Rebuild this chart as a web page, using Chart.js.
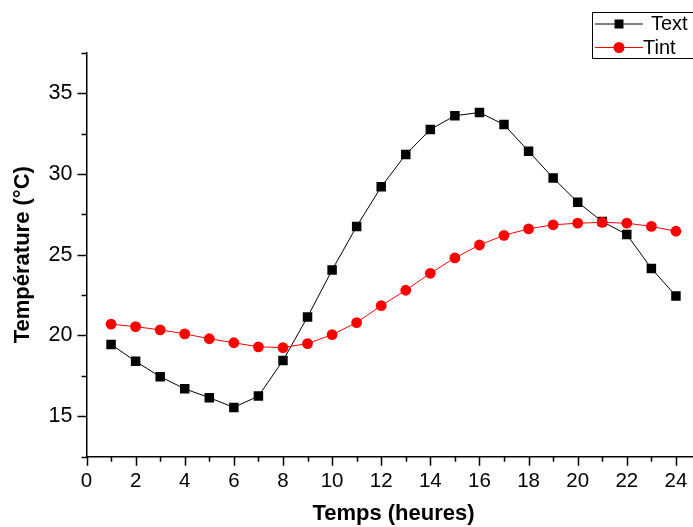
<!DOCTYPE html>
<html>
<head>
<meta charset="utf-8">
<script src="https://cdn.jsdelivr.net/npm/chart.js"></script>
<style>
    html, body { margin: 0; padding: 0; background: #fff; overflow: hidden; }
    #wrap { width: 693px; height: 527px; overflow: hidden; }
</style>
</head>
<body>
<div id="wrap"><canvas id="chart" width="710" height="527"></canvas></div>
<script>
// Data
const hours = [1, 2, 3, 4, 5, 6, 7, 8, 9, 10, 11, 12, 13, 14, 15, 16, 17, 18, 19, 20, 21, 22, 23, 24];
const textValues = [19.45, 18.4, 17.45, 16.7, 16.15, 15.55, 16.25, 18.45, 21.15, 24.05, 26.75, 29.2,
    31.2, 32.75, 33.6, 33.8, 33.05, 31.4, 29.75, 28.25, 27.05, 26.25, 24.15, 22.45];
const tintValues = [20.7, 20.55, 20.35, 20.1, 19.8, 19.55, 19.3, 19.25, 19.5, 20.05, 20.8, 21.85,
    22.8, 23.85, 24.8, 25.6, 26.2, 26.6, 26.85, 26.95, 27.0, 26.95, 26.75, 26.45];
const xTickLabels = [0, 2, 4, 6, 8, 10, 12, 14, 16, 18, 20, 22, 24];
const yTickLabels = [15, 20, 25, 30, 35];

const FONT = "'Liberation Sans', Arial, sans-serif";

function toPoints(values) {
    return hours.map((h, i) => ({ x: h, y: values[i] }));
}

// Origin-style axis ticks: long majors, short minors, pointing outwards
const axisTicks = {
    id: 'axisTicks',
    afterDraw(chart) {
        const ctx = chart.ctx;
        const xs = chart.scales.x, ys = chart.scales.y;
        ctx.save();
        ctx.strokeStyle = '#000';
        ctx.lineWidth = 1.5;
        ctx.beginPath();
        for (let v = xs.min; v <= xs.max; v += 1) {
            const px = Math.round(xs.getPixelForValue(v)) + 0.5;
            const len = xTickLabels.includes(v) ? 9 : 5;
            ctx.moveTo(px, ys.bottom);
            ctx.lineTo(px, ys.bottom + len);
        }
        for (let v = ys.min; v <= ys.max; v += 2.5) {
            const py = Math.round(ys.getPixelForValue(v)) + 0.5;
            const len = yTickLabels.includes(v) ? 9 : 5;
            ctx.moveTo(xs.left, py);
            ctx.lineTo(xs.left - len, py);
        }
        ctx.stroke();
        ctx.restore();
    }
};

// Boxed legend in the top right corner
const boxLegend = {
    id: 'boxLegend',
    afterDraw(chart) {
        const ctx = chart.ctx;
        const sets = chart.data.datasets;
        const left = 592.5, top = 12.5;
        ctx.save();
        ctx.strokeStyle = '#000';
        ctx.lineWidth = 1;
        ctx.strokeRect(left, top, 110, 46);
        const rows = [{ y: 24, textX: 651 }, { y: 47.5, textX: 643 }];
        sets.forEach((ds, i) => {
            const r = rows[i];
            ctx.strokeStyle = ds.borderColor;
            ctx.lineWidth = 1;
            ctx.beginPath();
            ctx.moveTo(595, r.y);
            ctx.lineTo(643, r.y);
            ctx.stroke();
            ctx.fillStyle = ds.pointBackgroundColor;
            if (ds.pointStyle === 'rect') {
                ctx.fillRect(614.5, r.y - 4.5, 9, 9);
            } else {
                ctx.beginPath();
                ctx.arc(619, r.y, 5.5, 0, Math.PI * 2);
                ctx.fill();
            }
            ctx.fillStyle = '#000';
            ctx.font = '20px ' + FONT;
            ctx.textBaseline = 'middle';
            ctx.fillText(ds.label, r.textX, r.y + 0.5);
        });
        ctx.restore();
    }
};

new Chart(document.getElementById('chart'), {
    type: 'line',
    data: {
        datasets: [{
            label: 'Text',
            data: toPoints(textValues),
            borderColor: '#000',
            borderWidth: 1,
            pointStyle: 'rect',
            pointRadius: 6.7,
            pointBackgroundColor: '#000',
            pointBorderColor: '#000',
            pointBorderWidth: 0,
            order: 2
        }, {
            label: 'Tint',
            data: toPoints(tintValues),
            borderColor: '#ff0000',
            borderWidth: 1,
            pointStyle: 'circle',
            pointRadius: 5.4,
            pointBackgroundColor: '#ff0000',
            pointBorderColor: '#ff0000',
            pointBorderWidth: 0,
            order: 1
        }]
    },
    options: {
        responsive: false,
        animation: false,
        devicePixelRatio: 1,
        layout: { padding: { top: 52.7, right: 9.5, left: 0, bottom: 0 } },
        plugins: {
            legend: { display: false },
            tooltip: { enabled: false }
        },
        scales: {
            x: {
                type: 'linear',
                min: 0,
                max: 25,
                afterFit: s => { s.height = 70.3; },
                ticks: {
                    stepSize: 1,
                    autoSkip: false,
                    maxRotation: 0,
                    padding: 3,
                    color: '#000',
                    font: { family: FONT, size: 20.5 },
                    callback: v => xTickLabels.includes(v) ? String(v) : ''
                },
                grid: { display: false, drawTicks: true, tickLength: 9 },
                border: { display: true, color: '#000', width: 1.5 },
                title: {
                    display: true,
                    text: 'Temps (heures)',
                    color: '#000',
                    font: { family: FONT, size: 22, weight: 'bold' },
                    padding: { top: 0, bottom: 0 }
                }
            },
            y: {
                type: 'linear',
                min: 12.5,
                max: 37.5,
                afterFit: s => { s.width = 86.5; },
                ticks: {
                    stepSize: 2.5,
                    autoSkip: false,
                    padding: 5,
                    color: '#000',
                    font: { family: FONT, size: 21.5 },
                    callback: v => yTickLabels.includes(v) ? String(v) : ''
                },
                grid: { display: false, drawTicks: true, tickLength: 9 },
                border: { display: true, color: '#000', width: 1.5 },
                title: {
                    display: true,
                    text: 'Température (°C)',
                    color: '#000',
                    font: { family: FONT, size: 22, weight: 'bold' },
                    padding: { top: 10, bottom: 0 }
                }
            }
        }
    },
    plugins: [axisTicks, boxLegend]
});
</script>
</body>
</html>
